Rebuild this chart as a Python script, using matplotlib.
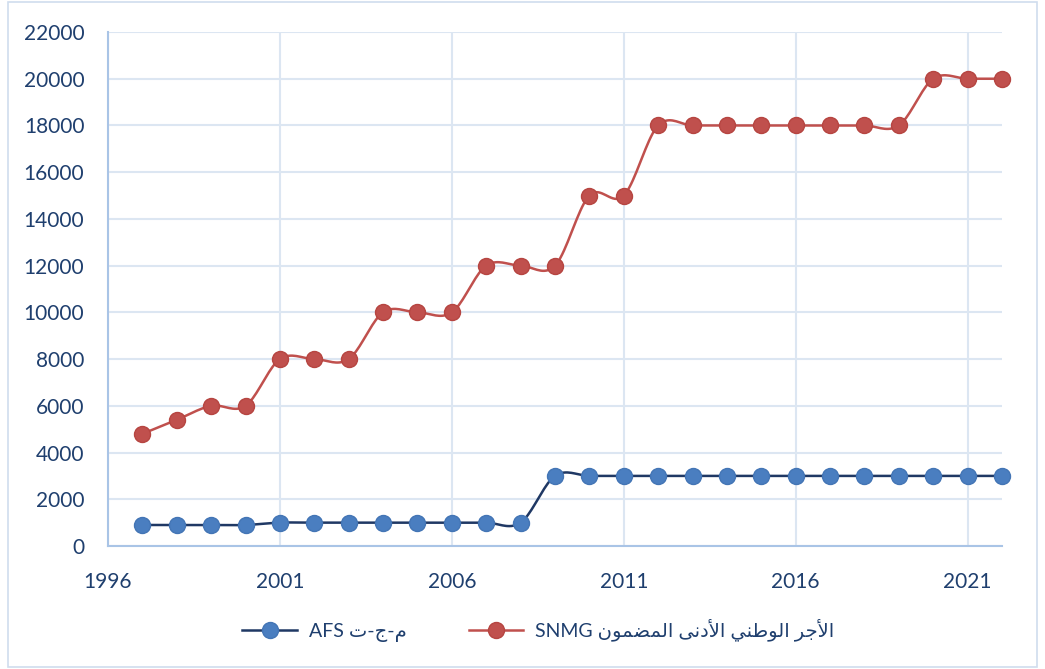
import numpy as np
import matplotlib.pyplot as plt
from matplotlib.lines import Line2D
from matplotlib.patches import Rectangle

years = list(range(1997, 2023))
afs = [900, 900, 900, 900, 1000, 1000, 1000, 1000, 1000, 1000, 1000, 1000,
       3000, 3000, 3000, 3000, 3000, 3000, 3000, 3000, 3000, 3000, 3000, 3000, 3000, 3000]
snmg = [4800, 5400, 6000, 6000, 8000, 8000, 8000, 10000, 10000, 10000, 12000, 12000,
        12000, 15000, 15000, 18000, 18000, 18000, 18000, 18000, 18000, 18000, 18000,
        20000, 20000, 20000]
label_afs = ('AFS', 'م-ج-ت')
label_snmg = ('SNMG', 'الأجر الوطني الأدنى المضمون')
x_ticks = [1996, 2001, 2006, 2011, 2016, 2021]
y_ticks = list(range(0, 22001, 2000))

# arabic presentation forms: iso, fin, ini, med (None = does not join forward)
FORMS = {
    'ا': (0xFE8D, 0xFE8E, None, None), 'أ': (0xFE83, 0xFE84, None, None),
    'ل': (0xFEDD, 0xFEDE, 0xFEDF, 0xFEE0), 'ج': (0xFE9D, 0xFE9E, 0xFE9F, 0xFEA0),
    'ر': (0xFEAD, 0xFEAE, None, None), 'و': (0xFEED, 0xFEEE, None, None),
    'ط': (0xFEC1, 0xFEC2, 0xFEC3, 0xFEC4), 'ن': (0xFEE5, 0xFEE6, 0xFEE7, 0xFEE8),
    'ي': (0xFEF1, 0xFEF2, 0xFEF3, 0xFEF4), 'د': (0xFEA9, 0xFEAA, None, None),
    'ى': (0xFEEF, 0xFEF0, None, None), 'م': (0xFEE1, 0xFEE2, 0xFEE3, 0xFEE4),
    'ض': (0xFEBD, 0xFEBE, 0xFEBF, 0xFEC0), 'ت': (0xFE95, 0xFE96, 0xFE97, 0xFE98),
}
LAM_ALEF = {'ا': (0xFEFB, 0xFEFC), 'أ': (0xFEF7, 0xFEF8)}


def shape(text):
    out = []
    i = 0
    while i < len(text):
        c = text[i]
        prev_joins = i > 0 and text[i - 1] in FORMS and FORMS[text[i - 1]][2] is not None
        if c == 'ل' and i + 1 < len(text) and text[i + 1] in LAM_ALEF:
            out.append(chr(LAM_ALEF[text[i + 1]][1 if prev_joins else 0]))
            i += 2
            continue
        if c not in FORMS:
            out.append(c)
            i += 1
            continue
        f = FORMS[c]
        next_joins = f[2] is not None and i + 1 < len(text) and text[i + 1] in FORMS
        if prev_joins and next_joins:
            out.append(chr(f[3]))
        elif prev_joins:
            out.append(chr(f[1]))
        elif next_joins:
            out.append(chr(f[2]))
        else:
            out.append(chr(f[0]))
        i += 1
    return ''.join(out)[::-1]


def smooth(x, y, n=20):
    x = np.asarray(x, float)
    y = np.asarray(y, float)
    px = np.concatenate([[x[0]], x, [x[-1]]])
    py = np.concatenate([[y[0]], y, [y[-1]]])
    xs, ys = [], []
    t = np.linspace(0, 1, n)
    for i in range(1, len(px) - 2):
        c1x = px[i] + (px[i + 1] - px[i - 1]) / 6
        c1y = py[i] + (py[i + 1] - py[i - 1]) / 6
        c2x = px[i + 1] - (px[i + 2] - px[i]) / 6
        c2y = py[i + 1] - (py[i + 2] - py[i]) / 6
        b = [(1 - t) ** 3, 3 * (1 - t) ** 2 * t, 3 * (1 - t) * t ** 2, t ** 3]
        xs.append(b[0] * px[i] + b[1] * c1x + b[2] * c2x + b[3] * px[i + 1])
        ys.append(b[0] * py[i] + b[1] * c1y + b[2] * c2y + b[3] * py[i + 1])
    return np.concatenate(xs), np.concatenate(ys)


fonts = ['Lato', 'DejaVu Sans']
text_color = '#1F3F6E'
grid_color = '#DCE6F2'

fig = plt.figure(figsize=(10.45, 6.69), dpi=100)
ax = fig.add_axes([108 / 1045, 1 - 546 / 669, (1002 - 108) / 1045, (546 - 32) / 669])

blue_line, blue_mk = '#1F3864', '#4A7EC0'
red_line, red_mk = '#C0504D', '#C0504D'

sx, sy = smooth(years, afs)
ax.plot(sx, sy, color=blue_line, lw=1.8, zorder=3)
ax.plot(years, afs, 'o', ms=11.5, color=blue_mk, mec='#4375B5', zorder=4, clip_on=False)
sx, sy = smooth(years, snmg)
ax.plot(sx, sy, color=red_line, lw=1.8, zorder=3)
ax.plot(years, snmg, 'o', ms=11.5, color=red_mk, mec='#B64541', zorder=4, clip_on=False)

ax.set_xlim(1996, 2022)
ax.set_ylim(0, 22000)
ax.set_xticks(x_ticks)
ax.set_yticks(y_ticks)
ax.grid(True, color=grid_color, lw=1.5)
ax.set_axisbelow(True)
for s in ['top', 'right']:
    ax.spines[s].set_visible(False)
for s in ['left', 'bottom']:
    ax.spines[s].set_color('#A9C4E6')
    ax.spines[s].set_linewidth(1.5)
ax.tick_params(length=0, labelcolor=text_color, labelsize=15)
ax.tick_params(axis='x', pad=19)
ax.tick_params(axis='y', pad=17)
for lab in ax.get_xticklabels() + ax.get_yticklabels():
    lab.set_family(fonts)

handles = [
    Line2D([], [], color=blue_line, lw=1.8, marker='o', ms=11.5, mfc=blue_mk, mec='#4375B5'),
    Line2D([], [], color=red_line, lw=1.8, marker='o', ms=11.5, mfc=red_mk, mec='#B64541'),
]
labels = [l[0] + ' ' + shape(l[1]) for l in (label_afs, label_snmg)]
leg = fig.legend(handles, labels, loc='center', bbox_to_anchor=(0.515, 1 - 630 / 669),
                 ncol=2, frameon=False, handlelength=2.8, handletextpad=0.6,
                 columnspacing=3.2, prop={'family': fonts, 'size': 14})
for t in leg.get_texts():
    t.set_color(text_color)

fig.patches.append(Rectangle((8 / 1045, 2 / 669), 1 - 16 / 1045, 1 - 4 / 669,
                             transform=fig.transFigure, fill=False,
                             edgecolor='#D0DDEE', lw=1.2))

fig.savefig('out.png', dpi=100)
